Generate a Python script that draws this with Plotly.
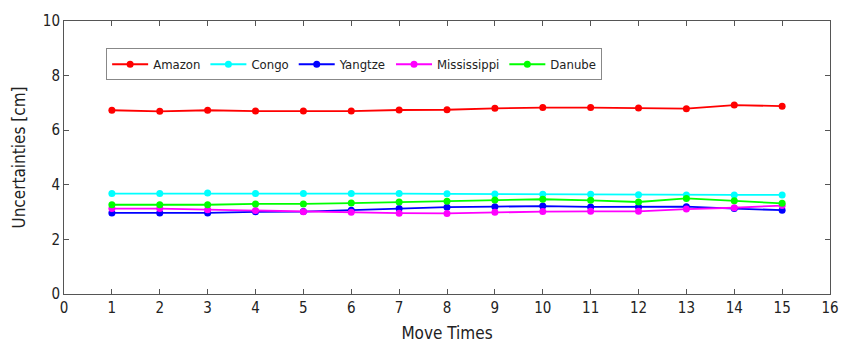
import plotly.graph_objects as go

move_times = list(range(1, 16))
amazon = [6.73, 6.69, 6.73, 6.70, 6.70, 6.70, 6.74, 6.75, 6.80, 6.83, 6.83, 6.81, 6.79, 6.92, 6.88]
congo = [3.68, 3.68, 3.70, 3.68, 3.68, 3.68, 3.68, 3.67, 3.66, 3.65, 3.65, 3.64, 3.63, 3.63, 3.63]
yangtze = [2.97, 2.97, 2.97, 3.01, 3.02, 3.07, 3.13, 3.18, 3.20, 3.22, 3.19, 3.19, 3.20, 3.13, 3.07]
mississippi = [3.13, 3.13, 3.09, 3.06, 3.01, 2.99, 2.96, 2.95, 2.99, 3.02, 3.03, 3.03, 3.11, 3.16, 3.24]
danube = [3.27, 3.27, 3.27, 3.30, 3.30, 3.33, 3.37, 3.40, 3.44, 3.47, 3.43, 3.37, 3.50, 3.42, 3.32]

series = [
    ("Amazon", amazon, "#ff0000"),
    ("Congo", congo, "#00ffff"),
    ("Yangtze", yangtze, "#0000ff"),
    ("Mississippi", mississippi, "#ff00ff"),
    ("Danube", danube, "#00ff00"),
]

x_ticks = list(range(0, 17))
y_ticks = [0, 2, 4, 6, 8, 10]

FONT = "DejaVu Sans Condensed, Liberation Sans Narrow, Liberation Sans, Arial, sans-serif"

fig = go.Figure()
for name, vals, col in series:
    fig.add_trace(go.Scatter(
        x=move_times, y=vals, name=name, mode="lines+markers",
        line=dict(color=col, width=1.8),
        marker=dict(color=col, size=7),
    ))

axis_common = dict(
    showgrid=False, zeroline=False, showline=True, linecolor="#555555", linewidth=1,
    mirror="allticks", ticks="inside", ticklen=5, tickcolor="#555555",
    tickfont=dict(family=FONT, size=15, color="#222222"),
)

fig.update_layout(
    width=851, height=352,
    margin=dict(l=64, r=13, t=19, b=52),
    paper_bgcolor="white", plot_bgcolor="white",
    font=dict(family=FONT, color="#222222"),
    xaxis=dict(range=[0, 16], tickvals=x_ticks, title=dict(text="Move Times", font=dict(size=17), standoff=11), **axis_common),
    yaxis=dict(range=[0, 10], tickvals=y_ticks, title=dict(text="Uncertainties [cm]", font=dict(size=17), standoff=12), **axis_common),
    legend=dict(
        orientation="h", x=0.055, y=0.90, xanchor="left", yanchor="top",
        bordercolor="#888888", borderwidth=1, bgcolor="white",
        font=dict(family=FONT, size=13, color="#222222"),
        tracegroupgap=0, itemwidth=36,
    ),
    showlegend=True,
)

fig.write_html("out.html")
